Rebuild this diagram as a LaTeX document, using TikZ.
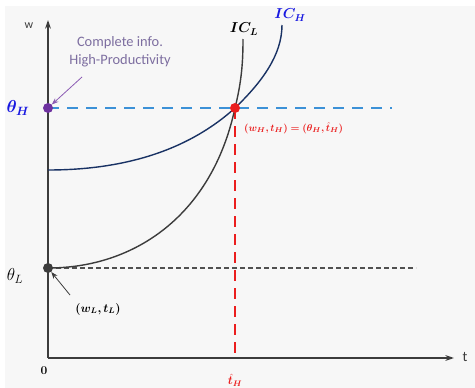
\documentclass[tikz,border=0pt]{standalone}
\usepackage{bm}
\usepackage{amsmath}
\usepackage{fontspec}
\newfontfamily\labelfont{Carlito}
\usetikzlibrary{arrows.meta, positioning, calc}
\definecolor{PanelGrey}{RGB}{247, 247, 247}
\definecolor{AxisGrey}{RGB}{60, 60, 60}
\definecolor{CurveNavy}{RGB}{25, 50, 100}
\definecolor{CurveGrey}{RGB}{60, 60, 60}
\definecolor{DashBlue}{RGB}{60, 145, 215}
\definecolor{PointRed}{RGB}{235, 30, 30}
\definecolor{InfoPurple}{RGB}{110, 50, 160}
\definecolor{InfoText}{RGB}{125, 110, 160}
\definecolor{LabelBlue}{RGB}{25, 25, 225}

\begin{document}
\begin{tikzpicture}[
        x = 1pt, y = -1pt,
        axis/.style = {
            -{Stealth[length = 3mm, width = 2mm]},
            line width = 1.4pt,
            AxisGrey
        },
        dot/.style = {
            circle,
            inner sep = 0pt,
            minimum size = 10pt
        },
        pointer/.style = {
            -{Stealth[length = 2.4mm]},
            thick
        },
        mathlbl/.style = {
            inner sep = 1pt
        }
    ]
        \useasboundingbox (0, 0) rectangle (475, 388);
        \fill[PanelGrey] (5, 6) rectangle (475, 388);

        % axes
        \coordinate (o) at (48, 358);
        \coordinate (ytip) at (48, 20);
        \coordinate (xtip) at (454, 358);
        \draw[axis] (o) -- (ytip);
        \draw[axis] (o) -- (xtip);
        \node[font = \labelfont\large, AxisGrey] (wlbl) at (29, 26) {w};
        \node[font = \labelfont\Large, AxisGrey] (tlbl) at (465, 357) {t};
        \node[mathlbl, font = \large] (zero) at (44, 371) {$\bm{0}$};

        % key points
        \coordinate (thH) at (48, 108);
        \coordinate (thL) at (48, 268);
        \coordinate (eqH) at (235, 108);
        \coordinate (eqHx) at (235, 358);
        \coordinate (hEnd) at (392, 108);
        \coordinate (lEnd) at (416, 268);

        % reference lines
        \draw[DashBlue, line width = 1.6pt, dash pattern = on 11pt off 8pt] (thH) -- (hEnd);
        \draw[AxisGrey!90, line width = 1.8pt, dash pattern = on 5pt off 3pt] (thL) -- (lEnd);
        \draw[PointRed, line width = 1.5pt, dash pattern = on 11pt off 7pt] (eqH) -- (eqHx);

        % indifference curves
        \draw[CurveNavy, line width = 1.4pt] (48, 170) .. controls (150, 170) and (205, 135) .. (eqH)
            .. controls (262, 82) and (282, 55) .. (282, 25);
        \draw[CurveGrey, line width = 1.4pt] (thL) .. controls (135, 268) and (212, 215) .. (eqH)
            .. controls (242, 80) and (243, 60) .. (243, 39);
        \node[mathlbl, LabelBlue, font = \Large] (icH) at (290, 15) {$\bm{IC_H}$};
        \node[mathlbl, font = \Large] (icL) at (244, 29) {$\bm{IC_L}$};

        % points
        \node[dot, fill = InfoPurple] (pH) at (thH) {};
        \node[dot, fill = AxisGrey] (pL) at (thL) {};
        \node[dot, fill = PointRed] (pE) at (eqH) {};

        % axis labels
        \node[mathlbl, LabelBlue, font = \LARGE] (thHlbl) at (18, 108) {$\bm{\theta_H}$};
        \node[mathlbl, font = \LARGE] (thLlbl) at (15, 276) {$\theta_L$};
        \node[mathlbl, PointRed, font = \large] (tHlbl) at (235, 380) {$\hat{\bm{t}}_{\bm H}$};

        % annotations
        \node[font = \labelfont\Large, InfoText, align = center, inner sep = 1pt] (info) at (120, 52)
            {Complete info.\\High-Productivity};
        \coordinate (infoArr) at (82, 77);
        \draw[pointer, InfoPurple!80] (infoArr) -- (pH);
        \node[mathlbl, PointRed, anchor = west] (eqlbl) at (243, 128)
            {$\bm{(w_H, t_H) = (\theta_H,} \hat{\bm{t}}_{\bm H}\bm{)}$};
        \node[mathlbl, font = \large] (wLlbl) at (98, 309) {$\bm{(w_L, t_L)}$};
        \coordinate (lArr) at (70, 295);
        \draw[pointer, AxisGrey] (lArr) -- (pL);
    \end{tikzpicture}
\end{document}
